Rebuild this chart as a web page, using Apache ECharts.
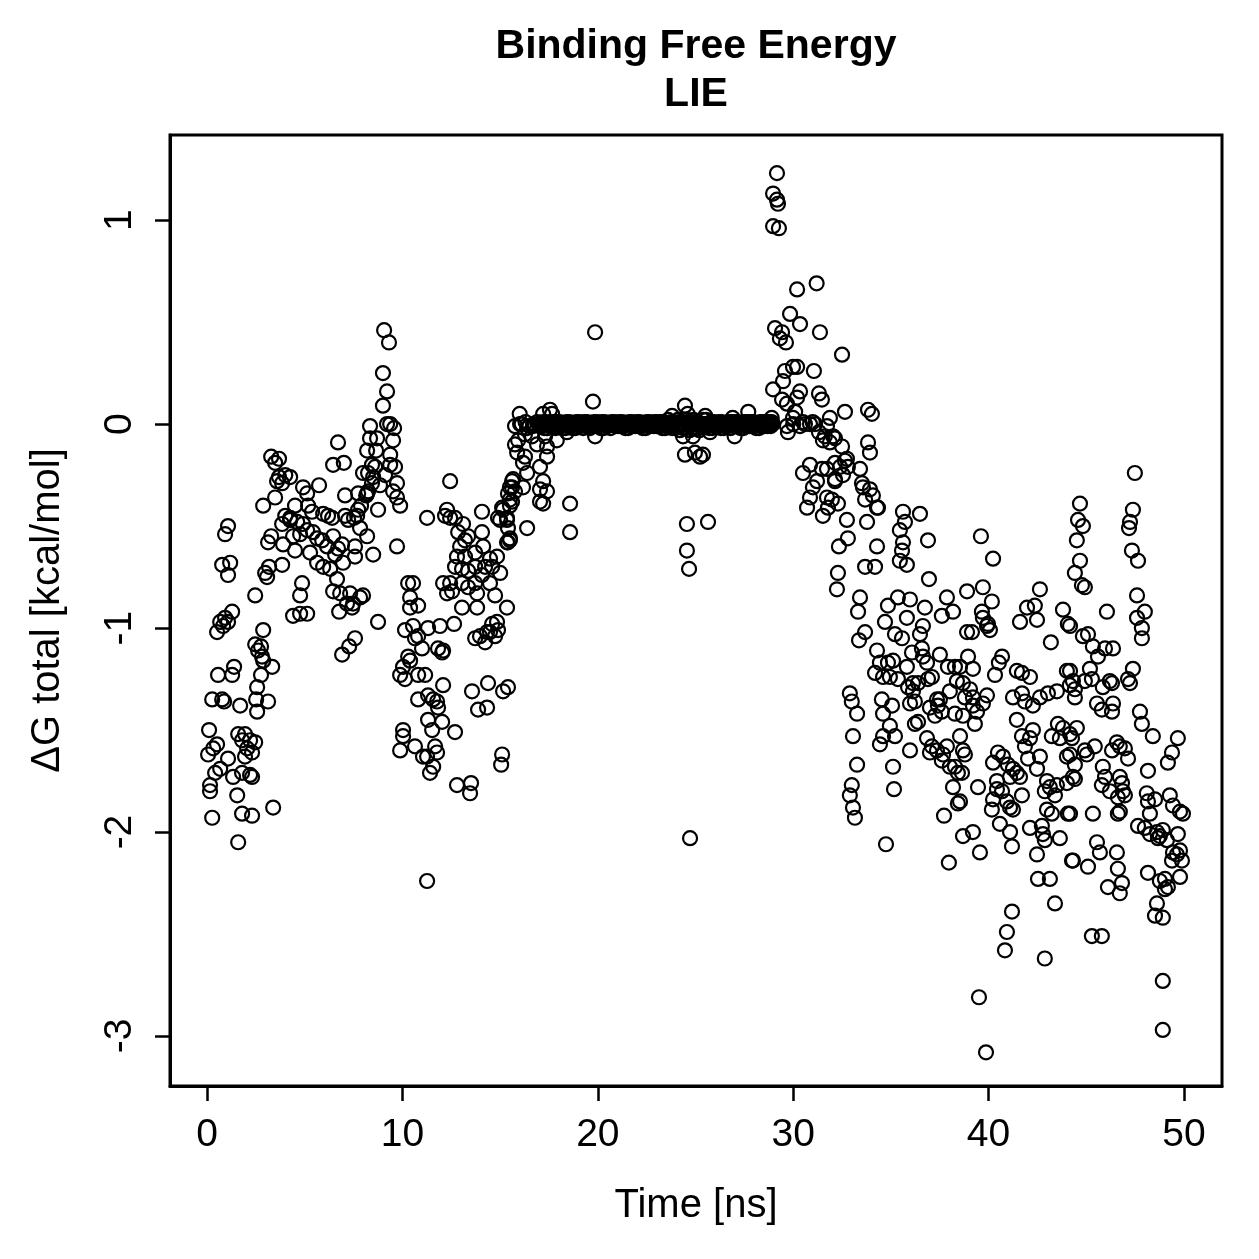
<!DOCTYPE html>
<html>
<head>
<meta charset="utf-8">
<title>Binding Free Energy LIE</title>
<script src="https://cdn.jsdelivr.net/npm/echarts@6/dist/echarts.min.js"></script>
<style>
  html, body { margin: 0; padding: 0; background: #fff; }
  #chart { width: 1259px; height: 1259px; }
</style>
</head>
<body>
<div id="chart"></div>
<script>
// [time (ns), dG total (kcal/mol)], grouped by time range
const start0to4 = [
  [3.28,-0.16],[3.68,-0.17],[3.48,-0.19],[3.68,-0.26],[4.0,-0.25],[3.58,-0.28],[3.84,-0.29],
  [2.87,-0.40],[3.48,-0.36],[4.0,-0.45],[4.25,-0.47],[3.84,-0.49],[1.07,-0.5],[0.92,-0.54],
  [3.28,-0.55],[3.12,-0.58],[3.89,-0.59],[0.77,-0.69],[1.18,-0.68],[1.07,-0.74],
  [2.97,-0.73],[3.17,-0.70],[3.84,-0.69],[3.07,-0.75],[2.46,-0.84],
  [0.67,-0.97],[0.92,-0.95],[1.28,-0.92],[0.51,-1.02],[1.07,-0.97],[0.82,-0.99],[2.87,-1.01],
  [2.46,-1.08],[2.76,-1.09],[2.81,-1.14],[2.61,-1.11],[2.87,-1.16],[3.33,-1.19],
  [0.56,-1.23],[1.38,-1.19],[1.28,-1.23],[2.76,-1.23],[2.56,-1.29],
  [0.26,-1.35],[0.77,-1.35],[0.87,-1.36],[1.69,-1.38],[2.51,-1.35],[3.12,-1.36],[2.56,-1.41],
  [0.1,-1.50],[0.51,-1.57],[0.05,-1.62],[0.31,-1.59],
  [1.59,-1.52],[1.94,-1.52],[2.2,-1.55],[1.79,-1.55],[2.46,-1.56],[2.05,-1.59],[2.3,-1.61],[1.94,-1.63],[1.07,-1.64],
  [0.41,-1.71],[0.67,-1.69],[0.15,-1.77],[0.15,-1.80],[1.33,-1.73],[1.79,-1.71],[2.2,-1.72],[2.3,-1.73],[1.54,-1.82],
  [0.26,-1.93],[1.79,-1.91],[2.3,-1.92],[3.38,-1.88],[1.59,-2.05]
];
const rise4to10 = [
  [9.06,0.46],[9.31,0.40],[9.0,0.25],[9.21,0.16],[9.0,0.09],
  [8.34,-0.01],[9.21,0.0],[9.37,0.0],[9.57,-0.02],[9.52,-0.08],
  [6.7,-0.09],[8.34,-0.07],[8.7,-0.07],[8.19,-0.13],[8.65,-0.13],
  [9.37,-0.15],[9.62,-0.21],[9.37,-0.20],[8.44,-0.20],[8.6,-0.21],
  [6.45,-0.20],[7.0,-0.19],[7.98,-0.24],[8.24,-0.24],[8.5,-0.26],[9.11,-0.25],
  [8.85,-0.30],[8.44,-0.29],[8.19,-0.34],[9.72,-0.29],[9.52,-0.33],[9.72,-0.36],[9.88,-0.40],
  [5.73,-0.30],[4.91,-0.31],[5.12,-0.34],[4.25,-0.26],
  [7.06,-0.35],[7.73,-0.34],[8.14,-0.35],[8.24,-0.33],
  [8.75,-0.42],[7.73,-0.42],[7.68,-0.45],[7.88,-0.40],
  [4.5,-0.40],[5.17,-0.40],[5.37,-0.43],[5.94,-0.44],[6.19,-0.45],[6.4,-0.46],[7.06,-0.45],[7.22,-0.47],[7.52,-0.46],
  [4.25,-0.46],[4.61,-0.48],[4.91,-0.49],[4.4,-0.55],[4.76,-0.54],[5.12,-0.52],[5.42,-0.53],[5.63,-0.56],[5.89,-0.57],
  [6.14,-0.60],[6.45,-0.55],[6.7,-0.61],[6.91,-0.59],[7.83,-0.51],[8.19,-0.55],
  [4.5,-0.62],[5.27,-0.63],[5.63,-0.68],[5.94,-0.70],[6.3,-0.71],[6.55,-0.64],[6.96,-0.68],[7.57,-0.65],[7.57,-0.60],[8.5,-0.64],[9.72,-0.60],
  [6.65,-0.76],[6.45,-0.82],[6.81,-0.83],[7.32,-0.83],[7.16,-0.88],[7.47,-0.88],[7.83,-0.85],[7.98,-0.84],[6.76,-0.92],[7.42,-0.90],
  [4.86,-0.78],[4.76,-0.84],[4.4,-0.94],[4.76,-0.93],[5.12,-0.93],
  [8.75,-0.97],[7.57,-1.05],[7.27,-1.09],[6.91,-1.13]
];
const dip10to16 = [
  [12.44,-0.28],[11.26,-0.46],
  [12.28,-0.42],[12.18,-0.45],[12.44,-0.46],[12.69,-0.46],[13.1,-0.49],[12.85,-0.53],[13.36,-0.55],[13.2,-0.57],[12.95,-0.60],
  [13.72,-0.63],[14.07,-0.43],[14.07,-0.53],[14.13,-0.60],[15.1,-0.41],[14.89,-0.46],[15.35,-0.46],[15.5,-0.37],[15.5,-0.40],
  [15.61,-0.31],[15.61,-0.28],[15.4,-0.51],[15.5,-0.57],[15.35,-0.58],
  [12.79,-0.65],[13.2,-0.65],[12.69,-0.70],[13.05,-0.71],[13.36,-0.72],[13.72,-0.70],[14.23,-0.70],[14.07,-0.74],[13.72,-0.78],
  [13.82,-0.83],[14.48,-0.66],[14.84,-0.65],[14.59,-0.70],[15.0,-0.73],[14.48,-0.78],[14.74,-0.84],[12.44,-0.78],[12.08,-0.78],
  [12.54,-0.82],[12.28,-0.83],[13.05,-0.78],[13.36,-0.80],[13.05,-0.90],[13.82,-0.90],[15.35,-0.90],
  [10.29,-0.78],[10.54,-0.78],[10.39,-0.85],[10.39,-0.90],[10.8,-0.89],
  [12.64,-0.98],[11.92,-0.99],[11.31,-1.0],[10.54,-0.99],[10.13,-1.01],[10.64,-1.05],[10.8,-1.04],[11.0,-1.10],[11.82,-1.10],[12.03,-1.12],[12.08,-1.11],
  [13.72,-1.05],[13.97,-1.04],[14.23,-1.07],[14.48,-1.02],[14.74,-1.04],[14.84,-0.97],[14.89,-1.01],[14.59,-0.98],[14.33,-1.02],
  [10.29,-1.14],[10.03,-1.19],[9.88,-1.23],[10.13,-1.25],[10.8,-1.23],[11.16,-1.23],[10.39,-1.16],
  [12.08,-1.28],[13.56,-1.31],[14.38,-1.27],[15.15,-1.31],[15.4,-1.29],[13.87,-1.40],[14.33,-1.39],
  [10.8,-1.35],[11.31,-1.33],[11.57,-1.35],[11.77,-1.36],[11.82,-1.39],[11.31,-1.45],[12.03,-1.46],[11.52,-1.50],[12.69,-1.51],
  [10.03,-1.50],[10.03,-1.53],[9.88,-1.60],[10.64,-1.58],[11.05,-1.63],[11.26,-1.63],[11.67,-1.58],[11.77,-1.61],[11.57,-1.68],[11.41,-1.71],
  [15.1,-1.62],[15.05,-1.67],[12.79,-1.77],[13.51,-1.76],[13.46,-1.81],[11.26,-2.24]
];
const climb15to20 = [
  [16.0,0.05],[17.2,0.05],[17.55,0.07],[17.66,0.05],
  [15.76,-0.01],[16.02,0.0],[16.38,-0.02],[16.68,-0.01],[17.04,-0.01],[17.4,-0.02],[16.27,-0.05],[16.63,-0.06],[17.3,-0.06],
  [17.9,-0.08],[15.92,-0.08],[15.76,-0.10],[16.89,-0.10],[17.4,-0.11],[18.42,-0.04],
  [15.87,-0.14],[16.27,-0.16],[16.17,-0.19],[16.38,-0.24],[17.04,-0.21],[17.4,-0.16],
  [15.66,-0.27],[15.5,-0.31],[15.76,-0.33],[15.4,-0.34],[16.17,-0.31],[17.2,-0.28],[17.04,-0.32],[17.4,-0.33],[15.61,-0.38],
  [15.15,-0.42],[15.35,-0.47],[17.2,-0.39],[17.04,-0.38],[18.58,-0.39],[18.58,-0.53],
  [16.38,-0.51],[15.5,-0.56],[15.4,-0.58],[15.0,-0.47],
  [19.86,0.45],[19.75,0.11],[19.86,-0.06],
  [16.1,0.0],[16.3,0.01],[16.5,-0.01],[16.7,0.0],[16.9,0.01]
];
const plateau = [
  [17.0,0],[17.1,-0.01],[17.2,0.01],[17.3,0],[17.4,-0.02],[17.5,0],[17.6,0.01],[17.7,-0.01],[17.8,0],[17.9,0.01],
  [18.0,-0.01],[18.1,0],[18.2,-0.02],[18.3,0],[18.4,0.01],[18.5,-0.01],[18.6,0],[18.7,-0.02],[18.8,0],[18.9,0.01],
  [19.0,0],[19.1,-0.01],[19.2,0],[19.3,0.01],[19.4,-0.01],[19.5,0],[19.6,-0.02],[19.7,0],[19.8,0.01],[19.9,0],
  [20.0,-0.01],[20.1,0],[20.2,0.01],[20.3,-0.02],[20.4,0],[20.5,-0.01],[20.6,0],[20.7,0.01],[20.8,0],[20.9,-0.01],
  [21.0,0],[21.1,0.01],[21.2,-0.01],[21.3,0],[21.4,-0.02],[21.5,0],[21.6,0.01],[21.7,0],[21.8,-0.01],[21.9,0],
  [22.0,0.01],[22.1,-0.01],[22.2,0],[22.3,-0.02],[22.4,0],[22.5,0.01],[22.6,0],[22.7,-0.01],[22.8,0],[22.9,0.01],
  [23.0,-0.01],[23.1,0],[23.2,0.01],[23.3,-0.02],[23.4,0],[23.5,-0.01],[23.6,0.02],[23.7,0],[23.8,-0.02],[23.9,0.01],
  [24.0,-0.01],[24.1,0.02],[24.2,-0.03],[24.3,0],[24.4,0.02],[24.5,-0.02],[24.6,0.01],[24.7,-0.03],[24.8,0],[24.9,0.02],
  [25.0,-0.02],[25.1,0.01],[25.2,-0.03],[25.3,0],[25.4,0.02],[25.5,-0.01],[25.6,0],[25.7,-0.02],[25.8,0.01],[25.9,0],
  [26.0,-0.01],[26.1,0],[26.2,0.01],[26.3,-0.02],[26.4,0],[26.5,-0.01],[26.6,0],[26.7,0.01],[26.8,-0.02],[26.9,0],
  [27.0,0.01],[27.1,-0.01],[27.2,0],[27.3,-0.02],[27.4,0],[27.5,0.01],[27.6,-0.01],[27.7,0],[27.8,0.01],[27.9,-0.01],
  [28.0,0],[28.1,-0.02],[28.2,0],[28.3,0.01],[28.4,-0.01],[28.5,0],[28.6,0.01],[28.7,-0.01],[28.8,0],[28.9,0.01]
];
// in-between frames of the flat stretch, which reads as one solid band
const plateauMid = [
  [17.05,-0.01],[17.15,0],[17.25,-0.02],[17.35,0.01],[17.45,0],[17.55,-0.01],[17.65,0],[17.75,0.01],[17.85,-0.02],[17.95,0],
  [18.05,0.01],[18.15,-0.01],[18.25,0],[18.35,-0.02],[18.45,0],[18.55,0.01],[18.65,-0.01],[18.75,0],[18.85,-0.02],[18.95,0],
  [19.05,0.01],[19.15,0],[19.25,-0.02],[19.35,0],[19.45,0.01],[19.55,-0.01],[19.65,0],[19.75,-0.01],[19.85,0],[19.95,0.01],
  [20.05,0],[20.15,-0.02],[20.25,0],[20.35,0.01],[20.45,-0.01],[20.55,0],[20.65,-0.02],[20.75,0],[20.85,0.01],[20.95,0],
  [21.05,-0.01],[21.15,0],[21.25,0.01],[21.35,-0.01],[21.45,0],[21.55,-0.02],[21.65,0],[21.75,0.01],[21.85,0],[21.95,-0.01],
  [22.05,0],[22.15,0.01],[22.25,-0.01],[22.35,0],[22.45,-0.02],[22.55,0],[22.65,0.01],[22.75,0],[22.85,-0.01],[22.95,0],
  [23.05,0.01],[23.15,-0.01],[23.25,0],[23.35,0.01],[23.45,-0.02],[23.55,0],[23.65,-0.01],[23.75,0.01],[23.85,0],[23.95,-0.02],
  [24.05,0],[24.15,-0.01],[24.25,0.01],[24.35,-0.02],[24.45,0],[24.55,0.02],[24.65,-0.01],[24.75,0.01],[24.85,-0.02],[24.95,0],
  [25.05,0.01],[25.15,-0.02],[25.25,0],[25.35,-0.01],[25.45,0],[25.55,0.02],[25.65,-0.01],[25.75,0],[25.85,-0.02],[25.95,0.01],
  [26.05,0],[26.15,-0.01],[26.25,0],[26.35,0.01],[26.45,-0.02],[26.55,0],[26.65,-0.01],[26.75,0],[26.85,0.01],[26.95,-0.01],
  [27.05,0],[27.15,0.01],[27.25,-0.01],[27.35,0],[27.45,-0.02],[27.55,0],[27.65,0.01],[27.75,-0.01],[27.85,0],[27.95,0.01],
  [28.05,-0.01],[28.15,0],[28.25,-0.02],[28.35,0],[28.45,0.01],[28.55,-0.01],[28.65,0],[28.75,0.01],[28.85,-0.01],[28.95,0]
];
const plateauOutliers = [
  [24.46,0.09],[23.8,0.04],[24.6,0.05],[25.5,0.04],[25.6,0.0],[24.36,-0.06],[24.87,-0.06],[25.74,-0.04],
  [24.46,-0.15],[24.97,-0.14],[25.23,-0.16],[25.38,-0.15],[26.9,0.03],[27.7,0.06],[27.0,-0.06],[28.9,0.03],
  [24.56,-0.49],[25.64,-0.48],[24.56,-0.62],[24.67,-0.71],[24.72,-2.03]
];
const peak29to35 = [
  [29.17,1.23],[28.97,1.13],[29.17,1.10],[29.22,1.08],[28.97,0.97],[29.27,0.96],
  [31.2,0.69],[30.2,0.66],[29.84,0.54],[30.35,0.49],[31.37,0.45],[29.07,0.47],[29.43,0.45],[29.32,0.42],[29.63,0.40],[32.5,0.34],
  [29.99,0.28],[30.2,0.28],[29.58,0.26],[29.48,0.21],[31.06,0.26],
  [28.97,0.17],[29.43,0.12],[29.68,0.10],[30.35,0.16],[30.2,0.13],[31.32,0.15],[31.47,0.12],
  [30.1,0.06],[32.65,0.06],[33.83,0.07],[34.03,0.05],
  [28.81,0.0],[29.99,0.03],[30.5,0.01],[30.86,0.0],[31.12,0.0],[31.88,0.03],[30.6,0.0],[30.35,-0.01],[31.0,0.01],[30.0,0.0],
  [29.73,-0.04],[29.68,-0.01],[31.73,-0.01],[31.32,-0.04],
  [31.52,-0.08],[31.88,-0.09],[32.04,-0.06],[32.5,-0.11],[33.83,-0.09],[33.93,-0.14],[31.62,-0.06],[32.14,-0.07],
  [30.86,-0.20],[30.5,-0.24],[31.47,-0.22],[31.73,-0.22],[32.14,-0.19],[32.4,-0.21],[32.75,-0.17],[32.55,-0.25],[32.14,-0.28],
  [31.22,-0.28],[31.01,-0.31],[32.65,-0.18],[32.8,-0.21],[32.14,-0.27],
  [33.42,-0.22],[33.52,-0.29],[33.57,-0.31],[33.93,-0.32],[34.08,-0.35],[34.29,-0.41],[33.68,-0.37],[34.34,-0.41],
  [30.86,-0.36],[30.71,-0.41],[31.73,-0.36],[31.98,-0.37],[32.29,-0.39],[31.78,-0.41],[31.52,-0.45],
  [32.75,-0.47],[33.78,-0.48],[32.8,-0.56],[32.34,-0.6],[34.29,-0.6],
  [33.68,-0.70],[34.19,-0.70],[32.29,-0.73],[32.24,-0.81],[33.42,-0.85],[33.32,-0.92],
  [33.68,-1.02],[33.37,-1.06],
  [32.9,-1.32],[33.0,-1.36],[33.27,-1.42],[33.06,-1.53],[33.27,-1.67],[33.0,-1.77],[32.9,-1.82],[33.06,-1.88],[33.16,-1.93],
  [35.11,-1.68],[35.16,-1.79],[34.75,-2.06]
];
const drop35to39 = [
  [35.62,-0.43],[35.72,-0.48],[35.46,-0.52],[36.49,-0.44],[35.62,-0.58],[35.57,-0.62],[35.46,-0.67],[35.82,-0.69],[36.9,-0.57],
  [36.95,-0.76],
  [35.36,-0.85],[35.98,-0.86],[34.85,-0.89],[34.7,-0.97],[35.82,-0.95],[35.21,-1.03],[35.57,-1.05],[36.74,-0.90],[36.64,-0.99],[36.49,-1.03],
  [37.87,-0.85],[38.18,-0.92],[37.61,-0.94],
  [34.29,-1.11],[34.44,-1.17],[34.85,-1.17],[35.11,-1.16],[34.19,-1.22],[34.6,-1.24],[34.95,-1.24],[35.36,-1.25],[35.82,-1.19],
  [36.08,-1.12],[36.59,-1.10],[36.64,-1.14],[36.85,-1.17],[37.1,-1.24],[36.9,-1.25],[37.51,-1.13],[37.92,-1.19],[38.28,-1.19],[38.38,-1.26],
  [35.88,-1.29],[36.13,-1.27],[36.39,-1.27],[36.13,-1.31],[35.98,-1.37],[36.23,-1.36],[37.0,-1.39],[37.36,-1.35],[37.51,-1.35],
  [37.41,-1.38],[37.26,-1.43],[37.61,-1.41],[38.02,-1.31],[38.28,-1.42],
  [34.54,-1.35],[35.06,-1.38],[34.6,-1.42],[34.95,-1.48],[34.6,-1.53],[34.44,-1.57],[35.21,-1.53],[35.98,-1.6],[36.23,-1.47],[36.39,-1.46],
  [36.85,-1.54],[37.1,-1.58],[37.0,-1.61],[37.36,-1.60],[37.67,-1.62],[37.87,-1.58],[37.61,-1.65],[38.02,-1.68],[38.28,-1.68],[38.43,-1.71],
  [38.18,-1.78],[38.43,-1.86],[37.72,-1.92],[37.97,-2.15]
];
const spread39to44 = [
  [39.61,-0.55],[40.23,-0.66],
  [38.9,-0.82],[39.71,-0.80],[40.17,-0.87],[39.66,-0.92],[39.71,-0.95],[39.97,-0.98],[40.07,-1.01],[39.92,-0.99],[38.9,-1.02],[39.15,-1.02],
  [42.63,-0.81],[41.97,-0.90],[42.37,-0.89],[42.48,-0.96],[41.61,-0.97],[43.81,-0.91],[44.06,-0.98],[43.19,-1.07],
  [38.95,-1.14],[39.2,-1.2],[40.69,-1.14],[40.53,-1.17],[40.33,-1.23],[38.54,-1.19],[38.69,-1.27],[39.05,-1.30],[38.79,-1.34],
  [39.2,-1.34],[39.2,-1.38],[39.41,-1.41],[39.3,-1.47],[39.92,-1.33],[39.71,-1.37],[38.69,-1.43],
  [38.54,-1.53],[38.69,-1.60],[38.79,-1.62],[38.64,-1.71],[38.54,-1.85],[38.69,-2.02],[39.2,-2.0],[39.56,-2.10],
  [41.45,-1.21],[41.71,-1.22],[42.12,-1.24],[41.25,-1.34],[41.71,-1.32],[41.86,-1.36],[42.27,-1.38],[42.63,-1.34],[43.04,-1.32],
  [43.5,-1.31],[44.01,-1.21],[44.16,-1.28],[44.42,-1.34],
  [41.45,-1.45],[42.27,-1.50],[42.12,-1.54],[41.86,-1.58],[41.71,-1.53],[42.02,-1.64],[42.63,-1.63],[42.48,-1.69],[43.24,-1.53],
  [43.55,-1.47],[43.81,-1.49],[43.65,-1.54],[44.27,-1.54],[44.01,-1.63],[44.42,-1.67],
  [40.48,-1.61],[40.23,-1.66],[40.74,-1.63],[40.99,-1.67],[41.25,-1.69],[41.45,-1.71],[41.61,-1.73],[41.1,-1.73],[40.43,-1.75],
  [40.43,-1.79],[40.69,-1.80],[40.23,-1.84],[40.17,-1.89],[40.94,-1.85],[41.1,-1.88],[41.25,-1.89],[41.71,-1.82],[39.46,-1.78],
  [42.99,-1.75],[43.14,-1.78],[43.5,-1.77],[44.01,-1.76],[44.32,-1.73],[42.88,-1.80],[43.4,-1.82],[42.99,-1.89],[43.24,-1.91],[44.06,-1.91],
  [40.58,-1.96],[41.1,-2.0],[41.2,-2.07],[42.12,-1.98],[42.73,-1.97],[42.78,-2.01],[42.88,-2.04],[43.65,-2.03],[42.48,-2.11],[44.27,-2.14],
  [42.53,-2.23],[43.14,-2.23],[43.4,-2.35],
  [41.2,-2.39],[40.94,-2.49],[40.84,-2.58],[42.88,-2.62],
  [39.51,-2.81],[39.87,-3.08]
];
const spread44to50 = [
  [47.49,-0.24],
  [44.68,-0.39],[44.58,-0.47],[44.83,-0.50],[44.52,-0.57],[44.68,-0.67],[44.42,-0.73],[44.78,-0.79],[44.93,-0.80],
  [47.39,-0.42],[47.24,-0.48],[47.19,-0.51],[47.34,-0.62],[47.65,-0.67],
  [47.6,-0.84],[47.6,-0.95],[48.0,-0.92],[47.85,-1.0],[47.85,-1.05],[46.06,-0.92],
  [44.17,-0.99],[44.83,-1.04],[45.09,-1.03],[45.34,-1.09],[45.6,-1.14],[45.96,-1.10],[46.37,-1.10],
  [44.17,-1.21],[44.32,-1.26],[44.42,-1.30],[44.93,-1.26],[45.29,-1.25],[45.19,-1.20],[45.85,-1.29],[46.21,-1.26],[46.32,-1.27],
  [47.14,-1.25],[47.24,-1.27],[47.39,-1.20],[45.55,-1.37],[45.8,-1.40],[46.37,-1.37],[46.32,-1.41],[47.75,-1.41],
  [44.52,-1.49],[44.17,-1.52],[44.17,-1.62],[44.42,-1.74],[44.93,-1.60],[45.03,-1.62],[45.44,-1.58],[46.32,-1.60],[46.57,-1.56],
  [46.72,-1.58],[46.98,-1.59],[47.14,-1.64],[45.85,-1.68],[45.96,-1.73],[45.8,-1.77],[46.21,-1.80],[46.72,-1.73],[46.83,-1.76],
  [46.88,-1.80],[46.98,-1.82],[46.62,-1.83],[46.72,-1.90],
  [47.85,-1.47],[48.41,-1.53],[48.16,-1.70],[49.18,-1.66],[49.39,-1.61],[49.69,-1.54],
  [44.17,-1.91],[45.34,-1.91],[46.62,-1.91],
  [48.1,-1.81],[48.52,-1.84],[48.16,-1.85],[48.26,-1.91],[47.65,-1.97],[48.0,-1.98],[49.28,-1.82],[49.44,-1.87],[49.8,-1.90],
  [49.95,-1.91],[48.26,-2.01],[48.62,-2.00],[48.77,-2.02],[48.67,-2.03],[48.92,-1.99],[49.13,-2.04],
  [49.69,-2.01],[49.44,-2.10],[49.64,-2.11],[49.9,-2.14],[49.8,-2.09],[49.39,-2.14],
  [44.32,-2.14],[45.09,-2.17],[45.55,-2.05],[45.7,-2.10],[46.57,-2.10],[46.62,-2.18],
  [48.16,-2.20],[48.77,-2.24],[49.03,-2.23],[49.18,-2.27],[49.8,-2.22],[49.03,-2.28],
  [46.11,-2.27],[46.83,-2.25],[46.72,-2.30],
  [48.62,-2.35],[48.52,-2.41],[48.92,-2.42],
  [45.29,-2.51],[45.8,-2.51],
  [48.92,-2.73],[48.92,-2.97]
];

const xTicks = [0, 10, 20, 30, 40, 50];
const yTicks = [-3, -2, -1, 0, 1];

const allPoints = [].concat(start0to4, rise4to10, dip10to16, climb15to20, plateau, plateauMid,
  plateauOutliers, peak29to35, drop35to39, spread39to44, spread44to50);

const font = '"Liberation Sans", Arial, Helvetica, sans-serif';

const chart = echarts.init(document.getElementById('chart'), null, { renderer: 'canvas' });

const option = {
  animation: false,
  backgroundColor: '#fff',
  textStyle: { fontFamily: font, color: '#000' },
  graphic: [
    {
      type: 'text', x: 696, y: 47,
      style: { text: 'Binding Free Energy', font: 'bold 41px ' + font, fill: '#000', align: 'center', verticalAlign: 'middle' }
    },
    {
      type: 'text', x: 696, y: 95,
      style: { text: 'LIE', font: 'bold 41px ' + font, fill: '#000', align: 'center', verticalAlign: 'middle' }
    }
  ],
  grid: {
    left: 170,
    top: 135,
    width: 1052,
    height: 951,
    show: true,
    borderColor: '#000',
    borderWidth: 3,
    backgroundColor: 'transparent'
  },
  xAxis: {
    type: 'value',
    min: -1.9,
    max: 51.95,
    name: 'Time [ns]',
    nameLocation: 'middle',
    nameGap: 100,
    nameTextStyle: { fontSize: 40, color: '#000', fontFamily: font },
    splitLine: { show: false },
    axisLine: { show: true, onZero: false, lineStyle: { color: '#000', width: 3 } },
    axisTick: { show: true, inside: false, length: 15, customValues: xTicks, lineStyle: { color: '#000', width: 2.5 } },
    axisLabel: { customValues: xTicks, fontSize: 39, color: '#000', margin: 30, fontFamily: font }
  },
  yAxis: {
    type: 'value',
    min: -3.245,
    max: 1.417,
    name: 'ΔG total [kcal/mol]',
    nameLocation: 'middle',
    nameRotate: 90,
    nameGap: 102,
    nameTextStyle: { fontSize: 40, color: '#000', fontFamily: font },
    splitLine: { show: false },
    axisLine: { show: true, onZero: false, lineStyle: { color: '#000', width: 3 } },
    axisTick: { show: true, inside: false, length: 15, customValues: yTicks, lineStyle: { color: '#000', width: 2.5 } },
    axisLabel: { customValues: yTicks, fontSize: 39, color: '#000', margin: 30, rotate: 90, fontFamily: font }
  },
  series: [
    {
      type: 'scatter',
      data: allPoints,
      symbol: 'circle',
      symbolSize: 14,
      progressive: 0,
      large: false,
      silent: true,
      itemStyle: { color: 'rgba(0,0,0,0)', borderColor: '#000', borderWidth: 2.2, opacity: 1 }
    }
  ]
};

chart.setOption(option);
</script>
</body>
</html>
